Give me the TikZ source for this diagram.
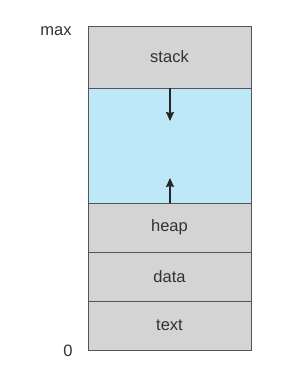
\documentclass[tikz,border=0pt]{standalone}
\usepackage{fontspec}
\setmainfont{Liberation Sans}
\usetikzlibrary{arrows.meta}
\definecolor{segGray}{RGB}{212,212,212}
\definecolor{segBlue}{RGB}{190,231,248}
\definecolor{segLine}{RGB}{85,85,85}
\definecolor{segText}{RGB}{50,50,50}
\begin{document}
\begin{tikzpicture}[x=1pt,y=1pt,
  seg/.style={draw=segLine, line width=0.9pt, fill=segGray, minimum width=163pt, inner sep=0pt, outer sep=0pt, font=\fontsize{16.5}{19}\selectfont, text=segText},
  lab/.style={font=\fontsize{16.5}{19}\selectfont, text=segText, inner sep=0pt},
  growarrow/.style={line width=1.5pt, draw=black!85, -{Stealth[length=9pt,width=8pt,inset=1pt]}}]
\useasboundingbox (0,0) rectangle (305,386);
\fill[white] (0,0) rectangle (305,386);
\node[seg, minimum height=62pt] (stack) at (169.5,329) {stack};
\node[seg, fill=segBlue, minimum height=115pt] (free) at (169.5,240.5) {};
\node[seg, minimum height=49pt] (heap) at (169.5,158.5) {heap};
\node[seg, minimum height=49pt] (data) at (169.5,109.5) {data};
\node[seg, minimum height=49pt] (text) at (169.5,60.5) {text};
\node[lab] (max) at (56,355) {max};
\node[lab] (zero) at (68,35) {0};
\coordinate (downend) at (170,265);
\coordinate (upend) at (170,208);
\draw[growarrow] (stack.south -| downend) -- (downend);
\draw[growarrow] (heap.north -| upend) -- (upend);
\end{tikzpicture}
\end{document}
